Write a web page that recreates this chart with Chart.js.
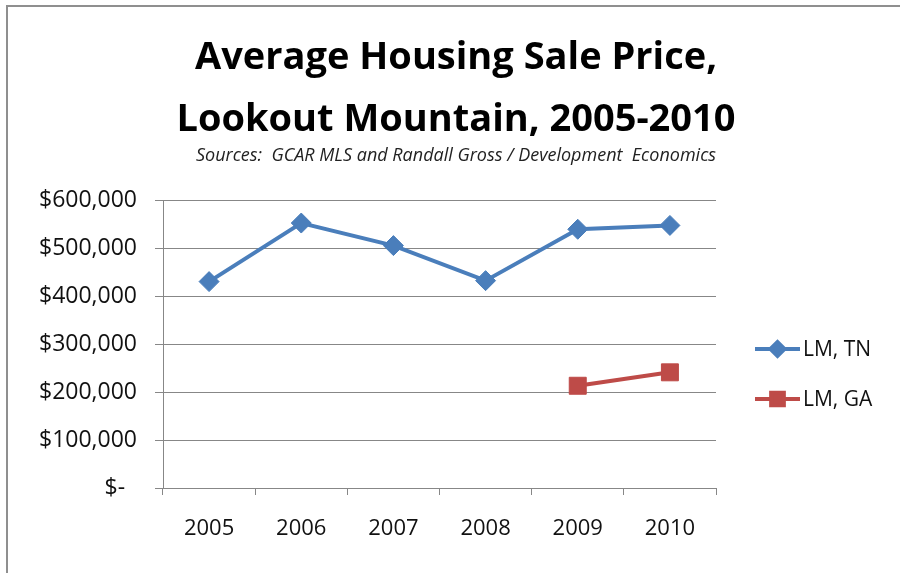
<!DOCTYPE html>
<html>
<head>
<meta charset="utf-8">
<script src="https://cdn.jsdelivr.net/npm/chart.js@4.4.1/dist/chart.umd.min.js"></script>
<style>
  html, body { margin: 0; padding: 0; background: #ffffff; overflow: hidden; }
  #wrap { position: relative; width: 900px; height: 573px; overflow: hidden; }
  canvas { display: block; }
  #frame { position: absolute; left: 6px; top: 5px; width: 1000px; height: 700px;
           border-left: 2px solid #8f8f8f; border-top: 2px solid #8f8f8f; pointer-events: none; }
</style>
</head>
<body>
<div id="wrap"><canvas id="chart" width="900" height="573"></canvas><div id="frame"></div></div>
<script>
// ---- data ----
const categories = ['2005', '2006', '2007', '2008', '2009', '2010'];
const seriesNames = ['LM, TN', 'LM, GA'];
const lmTN = [430000, 552000, 505000, 432000, 539000, 547000];
const lmGA = [null, null, null, null, 213000, 241000];
const yTickValues = [0, 100000, 200000, 300000, 400000, 500000, 600000];
const titleLines = ['Average Housing Sale Price,', 'Lookout Mountain, 2005-2010'];
const subtitleText = 'Sources:  GCAR MLS and Randall Gross / Development  Economics';

// ---- styles ----
const BLUE = '#4a7ebb';
const RED = '#be4b48';
const GRID = '#878787';
const FONT = "'Open Sans', 'Liberation Sans', sans-serif";

function fmtMoney(v) {
  if (v === 0) return '$-  ';
  return '$' + v.toLocaleString('en-US');
}

const lineLegendPlugin = {
  id: 'lineLegend',
  afterDraw(chart) {
    const ctx = chart.ctx;
    const area = chart.chartArea;
    const x0 = area.right + 39;
    const x1 = x0 + 45;
    const startY = area.top + 149;
    const gap = 50;
    const markerRadius = [7, 9];
    chart.data.datasets.forEach((ds, i) => {
      const y = startY + i * gap;
      ctx.save();
      ctx.strokeStyle = ds.borderColor;
      ctx.lineWidth = ds.borderWidth;
      ctx.beginPath();
      ctx.moveTo(x0, y);
      ctx.lineTo(x1, y);
      ctx.stroke();
      ctx.fillStyle = ds.pointBackgroundColor;
      ctx.strokeStyle = ds.pointBorderColor;
      Chart.helpers.drawPoint(ctx, {
        pointStyle: ds.pointStyle,
        radius: markerRadius[i],
        rotation: 0,
        borderWidth: 1
      }, (x0 + x1) / 2, y);
      ctx.fillStyle = '#111111';
      ctx.font = "21px " + FONT;
      ctx.textAlign = 'left';
      ctx.textBaseline = 'middle';
      ctx.fillText(ds.label, x1 + 3, y + 1);
      ctx.restore();
    });
  }
};

new Chart(document.getElementById('chart'), {
  type: 'line',
  data: {
    labels: categories,
    datasets: [
      {
        label: seriesNames[0],
        data: lmTN,
        borderColor: BLUE,
        backgroundColor: BLUE,
        borderWidth: 4,
        pointStyle: 'rectRot',
        pointRadius: 10,
        pointBackgroundColor: BLUE,
        pointBorderColor: BLUE,
        pointBorderWidth: 1,
        tension: 0,
        spanGaps: false
      },
      {
        label: seriesNames[1],
        data: lmGA,
        borderColor: RED,
        backgroundColor: RED,
        borderWidth: 4,
        pointStyle: 'rect',
        pointRadius: 12,
        pointBackgroundColor: RED,
        pointBorderColor: RED,
        pointBorderWidth: 1,
        tension: 0,
        spanGaps: false
      }
    ]
  },
  options: {
    responsive: false,
    animation: false,
    devicePixelRatio: 1,
    layout: { padding: { left: 12, right: 0, top: 0, bottom: 0 } },
    plugins: {
      legend: { display: false },
      tooltip: { enabled: false },
      title: {
        display: true,
        text: titleLines,
        color: '#000000',
        font: { family: FONT, size: 38, weight: 'bold', lineHeight: '62px' },
        padding: { top: 27, bottom: -6 }
      },
      subtitle: {
        display: true,
        text: subtitleText,
        color: '#222222',
        font: { family: FONT, size: 18, style: 'italic', lineHeight: '22px' },
        padding: { top: 0, bottom: 33 }
      }
    },
    scales: {
      x: {
        type: 'category',
        offset: true,
        grid: {
          display: true,
          drawOnChartArea: false,
          drawTicks: true,
          tickLength: 7,
          offset: true,
          color: GRID,
          lineWidth: 1
        },
        border: { display: true, color: GRID, width: 1 },
        ticks: {
          color: '#111111',
          font: { family: FONT, size: 22 },
          padding: 21,
          maxRotation: 0,
          autoSkip: false
        },
        afterFit(scale) { scale.height = 85; }
      },
      y: {
        type: 'linear',
        position: 'left',
        min: 0,
        max: 600000,
        afterBuildTicks(scale) { scale.ticks = yTickValues.map(v => ({ value: v })); },
        grid: {
          color: GRID,
          lineWidth: 1,
          drawTicks: true,
          tickLength: 8
        },
        border: { display: true, color: GRID, width: 1 },
        ticks: {
          color: '#111111',
          font: { family: FONT, size: 23 },
          padding: 18,
          callback: (v) => fmtMoney(v)
        },
        afterFit(scale) { scale.width = 151; }
      },
      legendSpace: {
        type: 'linear',
        position: 'right',
        display: false,
        afterFit(scale) { scale.width = 184; }
      }
    }
  },
  plugins: [lineLegendPlugin]
});
</script>
</body>
</html>
